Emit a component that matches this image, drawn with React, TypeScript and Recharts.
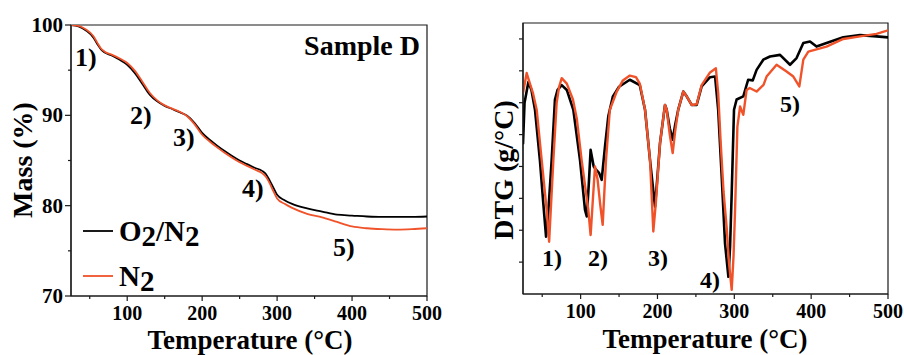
import { LineChart, Line, XAxis, YAxis, ReferenceArea } from "recharts";

// TGA mass loss, sample D
const massTemp = [
  25, 35, 45, 55, 60, 65, 70, 80, 90, 100, 110, 120, 130, 140, 150, 160, 170, 180, 190, 200,
  210, 220, 230, 240, 250, 260, 270, 280, 285, 290, 295, 300, 310, 320, 340, 360, 380, 400,
  420, 440, 460, 480, 500,
];
const massO2 = [
  100, 99.85, 99.4, 98.6, 97.9, 97.3, 96.95, 96.6, 96.15, 95.6, 94.7, 93.5, 92.3, 91.55, 91.05,
  90.7, 90.35, 89.95, 89.15, 88.05, 87.3, 86.65, 86.05, 85.5, 85.0, 84.6, 84.2, 83.85, 83.5,
  82.8, 82.0, 81.2, 80.6, 80.2, 79.7, 79.35, 79.0, 78.9, 78.8, 78.75, 78.75, 78.75, 78.8,
];
const massN2 = [
  100, 99.9, 99.5, 98.75, 98.05, 97.4, 97.05, 96.7, 96.3, 95.8, 94.95, 93.75, 92.5, 91.65, 91.1,
  90.75, 90.4, 89.9, 89.0, 87.85, 87.1, 86.45, 85.85, 85.3, 84.8, 84.4, 84.0, 83.6, 83.2, 82.5,
  81.6, 80.8, 80.2, 79.75, 79.1, 78.7, 78.2, 77.7, 77.5, 77.4, 77.35, 77.4, 77.5,
];

// DTG (arbitrary units)
const dtgTempO2 = [
  25, 27, 32, 36, 40.6, 47, 51.4, 55, 58, 62.3, 66.6, 70, 75.4, 82, 90.5, 99.2, 105.7, 108, 110.5,
  113, 117, 120, 124, 127.4, 131.7, 136, 142, 150, 164, 177, 183.8, 190.3, 196.8, 200, 203.3,
  209.8, 212, 216, 219.8, 223, 227, 233.6, 238, 244.5, 251, 257.5, 268.4, 275, 279, 283.6, 287.9,
  292.3, 294.5, 296.6, 299.6, 303, 311.7, 318, 324, 329, 337.7, 346.4, 359.5, 372.5, 381, 389.8,
  398.5, 407, 420, 441.8, 463.6, 485, 500,
];
const dtgO2 = [
  4.7, 6.0, 6.65, 6.4, 5.78, 4.2, 2.85, 1.8, 2.6, 4.2, 6.1, 6.4, 6.55, 6.4, 5.78, 4.2, 2.64, 2.43,
  3.4, 4.52, 4.0, 3.9, 3.8, 3.58, 4.62, 5.57, 6.2, 6.5, 6.72, 6.55, 5.78, 4.2, 2.74, 3.7, 4.73,
  5.93, 5.78, 5.2, 4.84, 5.3, 5.78, 6.35, 6.2, 5.93, 5.93, 6.51, 6.8, 6.82, 5.78, 3.68, 1.59,
  0.54, 1.5, 3.16, 5.78, 6.1, 6.2, 6.72, 6.7, 7.03, 7.35, 7.45, 7.5, 7.19, 7.4, 7.87, 7.92, 7.76,
  7.87, 8.05, 8.12, 8.08, 8.05,
];
const dtgTempN2 = [
  25, 29.8, 34, 38, 42.8, 49.3, 55.8, 59, 61.5, 64.5, 68.8, 72, 75.4, 82, 90, 95, 101.3, 110, 113,
  115.5, 118.7, 122, 125.5, 128.7, 133, 138, 147, 155, 164, 172, 177, 183.8, 190.3, 194.6, 198,
  203.3, 209.8, 212, 216, 219.8, 223, 227, 233.6, 238, 244.5, 251, 257.5, 268.4, 276, 279, 282.3,
  286, 290, 293, 296.6, 299, 301, 304, 307.5, 311.7, 316, 320, 329, 338, 342, 355, 368, 376.8,
  384.6, 389.8, 396.3, 420, 441.8, 463.6, 485, 500,
];
const dtgN2 = [
  6.3, 6.93, 6.6, 6.3, 5.78, 4.2, 2.64, 1.64, 2.8, 4.2, 6.0, 6.5, 6.77, 6.6, 6.1, 5.5, 4.2, 2.64,
  1.85, 2.8, 4.0, 3.6, 2.8, 2.17, 4.2, 5.78, 6.35, 6.7, 6.85, 6.8, 6.6, 5.78, 4.2, 1.96, 2.9,
  4.73, 5.93, 5.78, 5.0, 4.42, 5.1, 5.78, 6.35, 6.2, 5.93, 5.95, 6.55, 6.95, 7.08, 6.3, 4.73, 3.2,
  2.1, 1.0, 0.13, 1.2, 2.64, 5.25, 5.88, 5.62, 6.4, 6.46, 6.35, 6.56, 6.82, 7.19, 6.98, 6.82,
  6.51, 7.35, 7.6, 7.76, 8.0, 8.08, 8.16, 8.27,
];

const tempTicks = [50, 100, 150, 200, 250, 300, 350, 400, 450, 500];
const massTicks = [70, 75, 80, 85, 90, 95, 100];
const dtgTicks = [1, 2, 3, 4, 5, 6, 7, 8];
const peakLabels = ["1)", "2)", "3)", "4)", "5)"];

const massO2Data = massTemp.map((t, i) => ({ t, v: massO2[i] }));
const massN2Data = massTemp.map((t, i) => ({ t, v: massN2[i] }));
const dtgO2Data = dtgTempO2.map((t, i) => ({ t, v: dtgO2[i] }));
const dtgN2Data = dtgTempN2.map((t, i) => ({ t, v: dtgN2[i] }));

const FONT = "'Liberation Serif', 'Times New Roman', serif";
const INK = "#1a1a1a";
const RED = "#f0522a";

const XTick = (props: any) => {
  const { x, y, payload } = props;
  const major = payload.value % 100 === 0;
  return (
    <g>
      <line x1={x} x2={x} y1={y} y2={y + (major ? 5 : 3)} stroke={INK} strokeWidth={1.2} />
      {major && (
        <text x={x} y={y + 24} textAnchor="middle" fontFamily={FONT} fontWeight="bold" fontSize={20} fill="#000">
          {payload.value}
        </text>
      )}
    </g>
  );
};

const MassTick = (props: any) => {
  const { x, y, payload } = props;
  const major = payload.value % 10 === 0;
  return (
    <g>
      <line x1={x} x2={x - (major ? 6 : 3)} y1={y} y2={y} stroke={INK} strokeWidth={1.2} />
      {major && (
        <text x={x - 8} y={y + 7} textAnchor="end" fontFamily={FONT} fontWeight="bold" fontSize={21} fill="#000">
          {payload.value}
        </text>
      )}
    </g>
  );
};

const DtgTick = (props: any) => {
  const { x, y } = props;
  return <line x1={x} x2={x - 4} y1={y} y2={y} stroke={INK} strokeWidth={1.2} />;
};

const lbl = { fontFamily: FONT, fontWeight: "bold" as const, fill: "#000" };

export default function App() {
  return (
    <div style={{ position: "absolute", left: 0, top: 0, width: 904, height: 355, background: "#fff" }}>
      <div style={{ position: "absolute", left: 0, top: 0 }}>
        <LineChart width={452} height={355} margin={{ top: 25, right: 25, bottom: 0, left: 0 }}>
          <XAxis
            dataKey="t"
            type="number"
            domain={[25, 500]}
            allowDataOverflow
            ticks={tempTicks}
            interval={0}
            tickSize={0}
            tickMargin={0}
            tick={<XTick />}
            height={59}
            stroke={INK}
            strokeWidth={1.2}
          />
          <YAxis
            type="number"
            domain={[70, 100]}
            allowDataOverflow
            ticks={massTicks}
            interval={0}
            tickSize={0}
            tickMargin={0}
            tick={<MassTick />}
            width={71}
            stroke={INK}
            strokeWidth={1.2}
          />
          <ReferenceArea x1={25} x2={500} y1={70} y2={100} fill="none" stroke={INK} strokeWidth={1.2} />
          <Line data={massO2Data} dataKey="v" type="monotone" stroke="#000" strokeWidth={1.8} dot={false} isAnimationActive={false} />
          <Line data={massN2Data} dataKey="v" type="monotone" stroke={RED} strokeWidth={1.8} dot={false} isAnimationActive={false} />
        </LineChart>
      </div>

      <div style={{ position: "absolute", left: 460, top: 0 }}>
        <LineChart width={444} height={355} margin={{ top: 23, right: 16, bottom: 0, left: 0 }}>
          <XAxis
            dataKey="t"
            type="number"
            domain={[25, 500]}
            allowDataOverflow
            ticks={tempTicks}
            interval={0}
            tickSize={0}
            tickMargin={0}
            tick={<XTick />}
            height={61}
            stroke={INK}
            strokeWidth={1.2}
          />
          <YAxis
            type="number"
            domain={[0, 8.5]}
            allowDataOverflow
            ticks={dtgTicks}
            interval={0}
            tickSize={0}
            tickMargin={0}
            tick={<DtgTick />}
            width={63}
            stroke={INK}
            strokeWidth={1.2}
          />
          <ReferenceArea x1={25} x2={500} y1={0} y2={8.5} fill="none" stroke={INK} strokeWidth={1.2} />
          <Line data={dtgO2Data} dataKey="v" type="linear" stroke="#000" strokeWidth={2.6} strokeLinejoin="round" dot={false} isAnimationActive={false} />
          <Line data={dtgN2Data} dataKey="v" type="linear" stroke={RED} strokeWidth={2.4} strokeLinejoin="round" dot={false} isAnimationActive={false} />
        </LineChart>
      </div>

      <svg width={904} height={355} style={{ position: "absolute", left: 0, top: 0, pointerEvents: "none" }}>
        {/* left panel */}
        <text x={32} y={160} transform="rotate(-90 32 160)" textAnchor="middle" fontSize={28} {...lbl}>
          Mass (%)
        </text>
        <text x={250} y={349} textAnchor="middle" fontSize={27} {...lbl}>
          Temperature (°C)
        </text>
        <text x={420} y={55} textAnchor="end" fontSize={28} {...lbl}>
          Sample D
        </text>
        <text x={75} y={66} fontSize={26} {...lbl}>{peakLabels[0]}</text>
        <text x={130} y={124} fontSize={26} {...lbl}>{peakLabels[1]}</text>
        <text x={173} y={146} fontSize={26} {...lbl}>{peakLabels[2]}</text>
        <text x={242} y={197} fontSize={26} {...lbl}>{peakLabels[3]}</text>
        <text x={333} y={256} fontSize={26} {...lbl}>{peakLabels[4]}</text>

        <line x1={83} x2={113} y1={231} y2={231} stroke="#000" strokeWidth={1.8} />
        <text x={119} y={241} fontSize={29} {...lbl}>
          O<tspan dy={5}>2</tspan>
          <tspan dy={-5}>/N</tspan>
          <tspan dy={5}>2</tspan>
        </text>
        <line x1={83} x2={113} y1={276} y2={276} stroke={RED} strokeWidth={1.8} />
        <text x={119} y={286} fontSize={29} {...lbl}>
          N<tspan dy={5}>2</tspan>
        </text>

        {/* right panel */}
        <text x={513} y={170} transform="rotate(-90 513 170)" textAnchor="middle" fontSize={28} {...lbl}>
          DTG (g/°C)
        </text>
        <text x={705} y={348} textAnchor="middle" fontSize={27} {...lbl}>
          Temperature (°C)
        </text>
        <text x={542} y={266} fontSize={24} {...lbl}>{peakLabels[0]}</text>
        <text x={588} y={266} fontSize={24} {...lbl}>{peakLabels[1]}</text>
        <text x={648} y={266} fontSize={24} {...lbl}>{peakLabels[2]}</text>
        <text x={700} y={288} fontSize={24} {...lbl}>{peakLabels[3]}</text>
        <text x={780} y={112} fontSize={24} {...lbl}>{peakLabels[4]}</text>
      </svg>
    </div>
  );
}
